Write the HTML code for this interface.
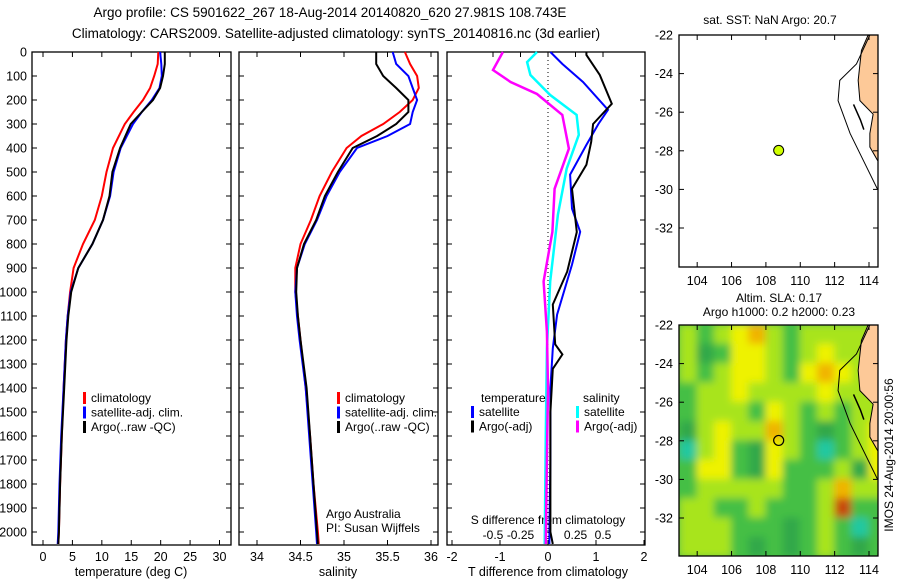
<!DOCTYPE html>
<html><head><meta charset="utf-8">
<style>
html,body{margin:0;padding:0;background:#fff;}
svg{display:block;font-family:"Liberation Sans",sans-serif;}
</style></head>
<body>
<svg id="fig" width="900" height="580" viewBox="0 0 900 580" xmlns="http://www.w3.org/2000/svg">
<defs>
<filter id="blur" x="0" y="0" width="1" height="1"><feGaussianBlur stdDeviation="4"/></filter>
<clipPath id="clipMap2"><rect x="679" y="325" width="199" height="231"/></clipPath>
<clipPath id="clipMap1"><rect x="679" y="35" width="199" height="232"/></clipPath>
</defs>
<text x="330" y="17" font-size="13.5" text-anchor="middle">Argo profile: CS 5901622_267 18-Aug-2014 20140820_620 27.981S 108.743E</text>
<text x="336" y="38" font-size="13.5" text-anchor="middle">Climatology: CARS2009. Satellite-adjusted climatology: synTS_20140816.nc (3d earlier)</text>
<g id="g"></g>
</svg>
<script>
// ---------- data ----------
const depthTicks=[0,100,200,300,400,500,600,700,800,900,1000,1100,1200,1300,1400,1500,1600,1700,1800,1900,2000];
const tempTicks=[0,5,10,15,20,25,30];
const salTicks=[34,34.5,35,35.5,36];
const tdiffTicks=[-2,-1,0,1,2];
const sdiffTicks=[-0.5,-0.25,0,0.25,0.5];
const sdiffLabels=["-0.5","-0.25","0","0.25","0.5"];
const latTicks=[-22,-24,-26,-28,-30,-32];
const lonTicks=[104,106,108,110,112,114];

const tDepth=[0,50,100,150,200,250,300,400,500,600,700,800,900,1000,1100,1200,1400,1600,1800,2000,2050];
const tempClim=[19.6,19.5,18.9,18.2,17,15.4,13.9,11.9,10.8,10,8.8,6.8,5.2,4.6,4.2,3.9,3.5,3.2,2.9,2.7,2.6];
const tempSat=[19.9,20.1,20.2,19.8,18.5,16.8,15.3,13.2,12,11.4,10.2,8.4,6,4.7,4.2,3.9,3.5,3.1,2.8,2.6,2.5];
const tempArgo=[20.7,20.7,20.4,19.9,18.7,16.8,14.9,13.1,11.8,11.3,10.2,8.4,6,4.8,4.3,4,3.6,3.2,2.9,2.7,2.6];

const sDepth=[0,50,100,150,200,250,300,350,400,500,600,700,800,900,1000,1100,1200,1400,1600,1800,2000,2050];
const salClim=[35.7,35.76,35.84,35.86,35.79,35.64,35.45,35.2,35.03,34.86,34.72,34.62,34.5,34.44,34.44,34.47,34.5,34.56,34.61,34.65,34.7,34.71];
const salSat=[35.56,35.6,35.74,35.79,35.84,35.79,35.76,35.5,35.15,34.95,34.8,34.69,34.55,34.46,34.44,34.46,34.49,34.56,34.6,34.64,34.68,34.69];
const salArgo=[35.37,35.37,35.45,35.6,35.74,35.74,35.6,35.38,35.1,34.93,34.78,34.68,34.54,34.46,34.45,34.47,34.5,34.57,34.61,34.65,34.69,34.7];

const satTDepth=[0,50,125,241,300,387,511,653,749,886,1094,1235,1400,1700,2000,2050];
const satTDiff=[0.05,0.3,0.73,1.25,1.05,0.8,0.46,0.5,0.67,0.5,0.19,0.1,0.05,0.05,0.03,0.03];
const argoTDepth=[0,12,96,216,300,374,470,570,750,915,1052,1218,1260,1320,1500,2000,2050];
const argoTDiff=[0.8,0.8,1.08,1.33,0.94,0.9,0.8,0.5,0.6,0.4,0.1,0.15,0.3,0.1,0.05,0.05,0.1];
const satSDepth=[0,42,96,179,262,345,486,678,956,1235,1600,2050];
const satSDiff=[-0.1,-0.19,-0.16,0.02,0.26,0.28,0.17,0.09,0.02,-0.01,-0.02,-0.03];
const argoSDepth=[0,75,125,175,262,403,570,749,956,1164,1400,1700,2050];
const argoSDiff=[-0.41,-0.5,-0.34,-0.1,0.13,0.19,0.06,0.04,-0.04,-0.01,0,-0.01,-0.02];

const slaLons=[103.5,104.5,105.5,106.5,107.5,108.5,109.5,110.5,111.5,112.5,113.5,114.5];
const slaLats=[-22.5,-23.5,-24.5,-25.5,-26.5,-27.5,-28.5,-29.5,-30.5,-31.5,-32.5,-33.5];
const slaGrid=[
[1,0,1,2,3,1,0,1,1,1,1,1],
[1,-1,0,2,2,1,0,1,2,1,1,1],
[1,0,1,2,2,1,0,2,3,2,1,1],
[0,1,1,2,1,1,1,1,2,1,1,1],
[0,1,1,1,0,2,1,0,1,0,1,1],
[-1,1,2,1,1,3,1,0,-1,0,1,2],
[-2,1,2,0,-1,2,1,0,-2,0,1,2],
[0,2,2,0,-1,2,0,0,0,1,-1,2],
[0,1,1,1,1,1,0,0,1,3,1,1],
[1,1,0,0,1,0,0,0,1,4,0,0],
[1,1,1,0,0,0,-1,0,1,0,-2,0],
[1,1,1,0,-1,0,-1,0,1,0,-1,0]];
const argoLon=108.743, argoLat=-27.981;
const coastLon=[113.95,113.56,113.37,113.47,114.24,114.05,114.05,114.5];
const coastLat=[-22,-22.8,-24.35,-25.4,-26.1,-27.1,-27.8,-28.5];
const shelfLon=[114.05,113.27,112.3,112.2,112.9,113.56,114.5];
const shelfLat=[-22,-23.5,-24.35,-25.4,-27.1,-28.3,-30];

// ---------- helpers ----------
const NS="http://www.w3.org/2000/svg";
const G=document.getElementById('g');
function el(tag,attrs,parent){const e=document.createElementNS(NS,tag);for(const k in attrs)e.setAttribute(k,attrs[k]);(parent||G).appendChild(e);return e;}
const Y0=52, YS=0.24;
function yD(d){return Y0+d*YS;}
const PT=52, PB=545;
function lin(a0,p0,a1,p1){return v=>p0+(v-a0)*(p1-p0)/(a1-a0);}
const xT=lin(0,43,30,219.5);
const xS=lin(34,257,36,431);
const xTD=lin(0,548,1,596);
const xSD=lin(0,548,0.5,603);
function line(xs,ys,xf,color,w,name){
  const pts=xs.map((v,i)=>xf(v).toFixed(1)+','+yD(ys[i]).toFixed(1)).join(' ');
  const p=el('polyline',{points:pts,fill:'none',stroke:color,'stroke-width':w});
  
  
}
function frame(x0,x1,name){
  const r=el('rect',{x:x0,y:PT,width:x1-x0,height:PB-PT,fill:'none',stroke:'#000','stroke-width':1.3});
  
  
  depthTicks.forEach(d=>{el('line',{x1:x0,x2:x0+5,y1:yD(d),y2:yD(d),stroke:'#000'});el('line',{x1:x1,x2:x1-5,y1:yD(d),y2:yD(d),stroke:'#000'});});
}
function txt(x,y,s,opts,name){const t=el('text',Object.assign({x:x,y:y,'font-size':12.5},opts||{}));t.textContent=s;
  
  return t;}

// ---------- panel 1 temperature ----------
frame(32,231,'temperature-panel');
depthTicks.forEach(d=>{txt(27,yD(d)+4.5,String(d),{'text-anchor':'end'},'depth-tick-label');});
tempTicks.forEach(v=>{const x=xT(v);el('line',{x1:x,x2:x,y1:PT,y2:PT+5,stroke:'#000'});el('line',{x1:x,x2:x,y1:PB,y2:PB-5,stroke:'#000'});txt(x,561,String(v),{'text-anchor':'middle'},'temperature-tick-label');});
txt(131,576,'temperature (deg C)',{'text-anchor':'middle'},'temperature-axis-title');
line(tempClim,tDepth,xT,'#f00',2,'temperature-climatology-line');
line(tempSat,tDepth,xT,'#00f',2,'temperature-satellite-line');
line(tempArgo,tDepth,xT,'#000',2,'temperature-argo-line');
function legend(x,y,items,prefix){items.forEach((it,i)=>{el('rect',{x:x,y:y+i*14.5-10,width:3,height:12,fill:it[1]});txt(x+8,y+i*14.5,it[0],{'font-size':12},prefix+'-legend-entry');});}
legend(83,402,[['climatology','#f00'],['satellite-adj. clim.','#00f'],['Argo(..raw -QC)','#000']],'temperature');

// ---------- panel 2 salinity ----------
frame(239,438,'salinity-panel');
salTicks.forEach(v=>{const x=xS(v);el('line',{x1:x,x2:x,y1:PT,y2:PT+5,stroke:'#000'});el('line',{x1:x,x2:x,y1:PB,y2:PB-5,stroke:'#000'});txt(x,561,String(v),{'text-anchor':'middle'},'salinity-tick-label');});
txt(338,576,'salinity',{'text-anchor':'middle'},'salinity-axis-title');
line(salClim,sDepth,xS,'#f00',2,'salinity-climatology-line');
line(salSat,sDepth,xS,'#00f',2,'salinity-satellite-line');
line(salArgo,sDepth,xS,'#000',2,'salinity-argo-line');
legend(337,402,[['climatology','#f00'],['satellite-adj. clim.','#00f'],['Argo(..raw -QC)','#000']],'salinity');
txt(326,518,'Argo Australia',{'font-size':12},'data-source-label');
txt(326,532,'PI: Susan Wijffels',{'font-size':12},'pi-label');

// ---------- panel 3 differences ----------
frame(447,645,'difference-panel');
el('line',{x1:548,x2:548,y1:PT,y2:PB,stroke:'#000','stroke-dasharray':'1,3'});
tdiffTicks.forEach(v=>{const x=xTD(v);el('line',{x1:x,x2:x,y1:PB,y2:PB-5,stroke:'#000'});txt(x,561,String(v),{'text-anchor':'middle'},'tdiff-tick-label');});
sdiffTicks.forEach((v,i)=>{const x=xSD(v);el('line',{x1:x,x2:x,y1:PT,y2:PT+5,stroke:'#000'});txt(x,539,sdiffLabels[i],{'text-anchor':'middle','font-size':12},'sdiff-tick-label');});
txt(548,524,'S difference from climatology',{'text-anchor':'middle','font-size':12},'sdiff-axis-title');
txt(548,576,'T difference from climatology',{'text-anchor':'middle'},'tdiff-axis-title');
line(satSDiff,satSDepth,xSD,'#0ff',2.5,'salinity-diff-satellite-line');
line(argoSDiff,argoSDepth,xSD,'#f0f',2.5,'salinity-diff-argo-line');
line(satTDiff,satTDepth,xTD,'#00f',2,'temperature-diff-satellite-line');
line(argoTDiff,argoTDepth,xTD,'#000',2,'temperature-diff-argo-line');
txt(481,402,'temperature',{'font-size':12},'diff-legend-heading-temperature');
txt(583,402,'salinity',{'font-size':12},'diff-legend-heading-salinity');
legend(471,416,[['satellite','#00f'],['Argo(-adj)','#000']],'tdiff');
legend(576,416,[['satellite','#0ff'],['Argo(-adj)','#f0f']],'sdiff');

// ---------- maps ----------
const xL=lin(103,680,114,869);
function mapFrame(top,bot,yLat,name){
  const r=el('rect',{x:679,y:top,width:199,height:bot-top,fill:'none',stroke:'#000','stroke-width':1.3});
  
  
  latTicks.forEach(v=>{const y=yLat(v);el('line',{x1:679,x2:684,y1:y,y2:y,stroke:'#000'});el('line',{x1:878,x2:873,y1:y,y2:y,stroke:'#000'});txt(673,y+4.5,String(v),{'text-anchor':'end'},'latitude-tick-label');});
  lonTicks.forEach(v=>{const x=xL(v);el('line',{x1:x,x2:x,y1:top,y2:top+5,stroke:'#000'});el('line',{x1:x,x2:x,y1:bot,y2:bot-5,stroke:'#000'});txt(x,bot+18,String(v),{'text-anchor':'middle'},'longitude-tick-label');});
}
function coast(yLat,clip){
  const land=coastLon.map((v,i)=>xL(v)+','+yLat(coastLat[i])).join(' ')+' 880,'+yLat(-28.5)+' 880,'+yLat(-22);
  const p=el('polygon',{points:land,fill:'#fdc998',stroke:'#000','stroke-width':1,'clip-path':clip});
  
  
  const s=el('polyline',{points:shelfLon.map((v,i)=>xL(v)+','+yLat(shelfLat[i])).join(' '),fill:'none',stroke:'#000','stroke-width':1,'clip-path':clip});
  
  
  el('polyline',{points:[[113.1,-25.6],[113.5,-26.4],[113.7,-26.9]].map(a=>xL(a[0])+','+yLat(a[1])).join(' '),fill:'none',stroke:'#000','stroke-width':1.5});
}
// top map
const yLat1=lin(-22,35,-32,228);
el('rect',{x:679,y:35,width:199,height:232,fill:'#fff'});
coast(yLat1,'url(#clipMap1)');
mapFrame(35,267,yLat1,'sst-map');
const d1=el('circle',{cx:xL(argoLon),cy:yLat1(argoLat),r:5,fill:'#d0ff00',stroke:'#000'});


txt(770,24,'sat. SST: NaN Argo: 20.7',{'text-anchor':'middle','font-size':12},'sst-map-title');
// bottom map
const yLat2=lin(-22,325,-32,518);
const cols=['#20c8a0','#30a848','#44bf44','#a8e41c','#eef200','#f0b400','#c84a10'];
const gh=el('g',{'clip-path':'url(#clipMap2)'});
const gb=el('g',{filter:'url(#blur)'},gh);
el('rect',{x:670,y:315,width:220,height:250,fill:'#44bf44'},gb);
slaGrid.forEach((row,j)=>row.forEach((v,i)=>{
  const x0=xL(slaLons[i]-0.5),x1=xL(slaLons[i]+0.5),y0=yLat2(slaLats[j]+0.5),y1=yLat2(slaLats[j]-0.5);
  const c=el('rect',{x:x0-0.5,y:y0-0.5,width:x1-x0+1,height:y1-y0+1,fill:cols[v+2]},gb);
  
  
}));
coast(yLat2,'url(#clipMap2)');
mapFrame(325,556,yLat2,'sla-map');
const d2=el('circle',{cx:xL(argoLon),cy:yLat2(argoLat),r:5,fill:'none',stroke:'#000','stroke-width':1.2});


txt(779,302,'Altim. SLA: 0.17',{'text-anchor':'middle','font-size':12},'sla-map-title-1');
txt(779,316,'Argo h1000: 0.2 h2000: 0.23',{'text-anchor':'middle','font-size':12},'sla-map-title-2');
const rt=txt(0,0,'IMOS 24-Aug-2014 20:00:56',{'text-anchor':'middle','font-size':12,transform:'translate(893,455) rotate(-90)'},'timestamp-label');
</script>
</body></html>
